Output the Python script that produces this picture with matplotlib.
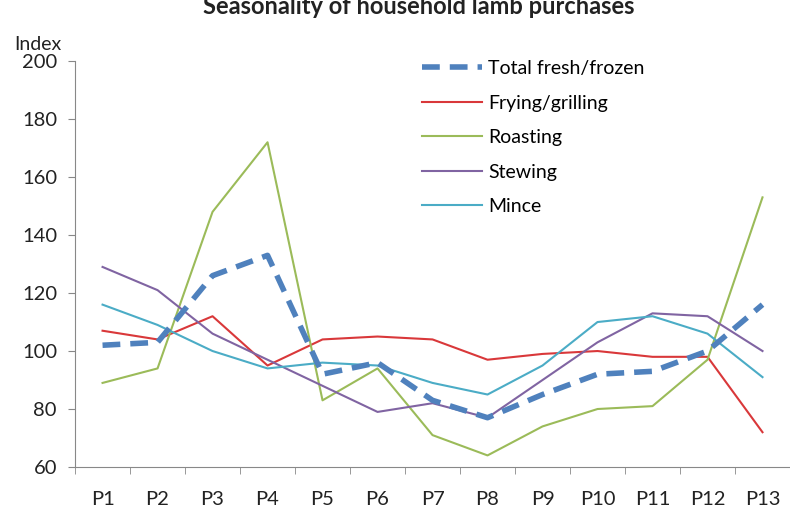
import numpy as np
import matplotlib.pyplot as plt

plt.rcParams['font.family'] = ['Lato', 'DejaVu Sans']

periods = ["P1", "P2", "P3", "P4", "P5", "P6", "P7", "P8", "P9", "P10", "P11", "P12", "P13"]

total = [102, 103, 126, 133, 92, 96, 83, 77, 85, 92, 93, 100, 116]
frying = [107, 104, 112, 95, 104, 105, 104, 97, 99, 100, 98, 98, 72]
roasting = [89, 94, 148, 172, 83, 94, 71, 64, 74, 80, 81, 97, 153]
stewing = [129, 121, 106, 97, 88, 79, 82, 77, 90, 103, 113, 112, 100]
mince = [116, 109, 100, 94, 96, 95, 89, 85, 95, 110, 112, 106, 91]

fig = plt.figure(figsize=(7.9, 5.09), dpi=100)
ax = fig.add_axes([0.095, 0.0825, 0.905, 0.7975])

x = np.arange(len(periods))
ax.plot(x, total, color='#4F81BD', lw=4, ls=(0, (3.2, 1.8)), label='Total fresh/frozen', zorder=5)
ax.plot(x, frying, color='#D9383A', lw=1.5, label='Frying/grilling')
ax.plot(x, roasting, color='#9BBB59', lw=1.5, label='Roasting')
ax.plot(x, stewing, color='#8064A2', lw=1.5, label='Stewing')
ax.plot(x, mince, color='#4BACC6', lw=1.5, label='Mince')

ax.set_xlim(-0.5, len(periods) - 0.5)
ax.set_ylim(60, 200)
ax.set_yticks(range(60, 201, 20))
ax.set_xticks(x)
ax.set_xticklabels(periods)
ax.set_xticks(np.arange(-0.5, len(periods), 1), minor=True)
ax.tick_params(axis='x', which='major', length=0, labelsize=14.5, pad=17, colors='#222222')
ax.tick_params(axis='x', which='minor', length=5, color='#888888')
ax.tick_params(axis='y', length=5, pad=8, labelsize=14.5, labelcolor='#222222', color='#888888')

for s in ['top', 'right']:
    ax.spines[s].set_visible(False)
for s in ['left', 'bottom']:
    ax.spines[s].set_color('#888888')

ax.legend(loc='upper left', bbox_to_anchor=(0.524, 0.897), bbox_transform=fig.transFigure,
          borderaxespad=0, frameon=False, fontsize=14,
          handlelength=3.1, handletextpad=0.3, labelspacing=0.9)

fig.text(0.53, 1.0 - 14 / 509, 'Seasonality of household lamb purchases', ha='center', va='baseline',
         fontsize=17, fontweight='bold', color='#222222')
fig.text(0.018, 0.912, 'Index', ha='left', va='center', fontsize=14, color='#222222')

fig.savefig('out.png', dpi=100)
